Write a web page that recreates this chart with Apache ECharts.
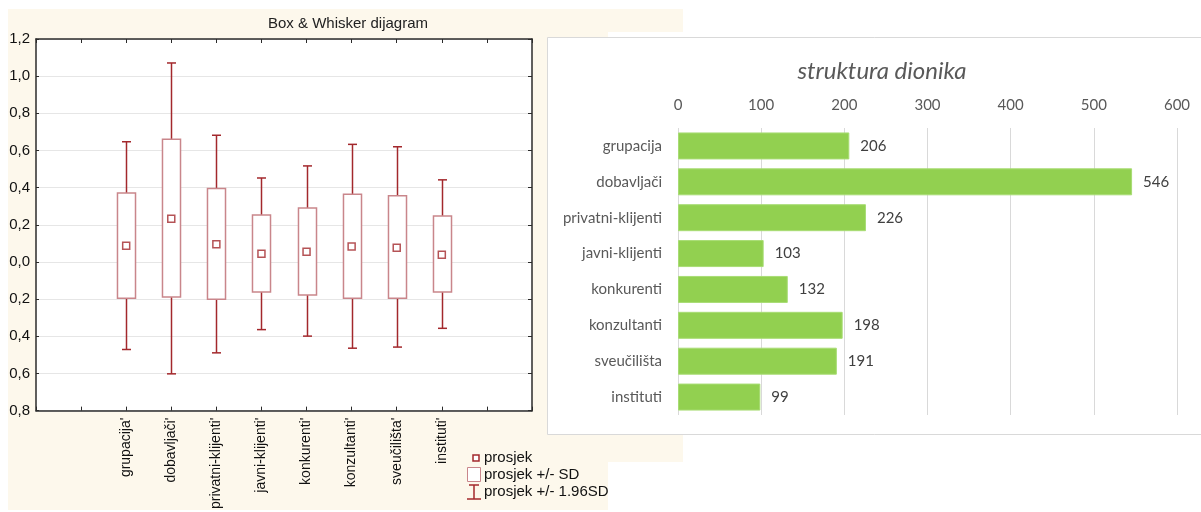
<!DOCTYPE html>
<html>
<head>
<meta charset="utf-8">
<script src="https://cdn.jsdelivr.net/npm/echarts@6/dist/echarts.min.js"></script>
<style>
  html, body { margin: 0; padding: 0; background: #ffffff; }
  #chart { width: 1201px; height: 512px; }
</style>
</head>
<body>
<div id="chart"></div>
<script>
// ---- Box & Whisker panel: per group mean, mean±SD and mean±1.96SD ----
const boxCategories = ["grupacija'", "dobavljači'", "privatni-klijenti'", "javni-klijenti'",
                       "konkurenti'", "konzultanti'", "sveučilišta'", "instituti'"];
const meanValues   = [0.087, 0.233, 0.096, 0.044, 0.055, 0.083, 0.076, 0.039];
const sdHigh       = [0.371, 0.661, 0.396, 0.253, 0.290, 0.365, 0.356, 0.248];
const sdLow        = [-0.195, -0.189, -0.200, -0.162, -0.178, -0.195, -0.195, -0.162];
const ciHigh       = [0.647, 1.071, 0.682, 0.452, 0.517, 0.633, 0.620, 0.442];
const ciLow        = [-0.471, -0.602, -0.489, -0.364, -0.399, -0.464, -0.458, -0.357];
const boxYTicks    = [-0.8, -0.6, -0.4, -0.2, 0.0, 0.2, 0.4, 0.6, 0.8, 1.0, 1.2];

// ---- Bar panel: number of stakeholders per group ----
const barCategories = ['grupacija', 'dobavljači', 'privatni-klijenti', 'javni-klijenti',
                       'konkurenti', 'konzultanti', 'sveučilišta', 'instituti'];
const barValues     = [206, 546, 226, 103, 132, 198, 191, 99];
const barTicks      = [0, 100, 200, 300, 400, 500, 600];

// groups sit at positions 2..9 on a 0..11 slot axis
const FIRST_SLOT = 2;
const boxData = boxCategories.map((c, i) => [FIRST_SLOT + i, ciHigh[i], sdHigh[i], sdLow[i], ciLow[i]]);
const meanData = boxCategories.map((c, i) => [FIRST_SLOT + i, meanValues[i]]);

const CREAM = '#fdf8ec';
const WHISKER = '#a3282c';
const BOXLINE = '#c9868b';
const FRAME = '#2b2b2b';
const LEFT_FONT = '"Liberation Sans", Arial, sans-serif';
const RIGHT_FONT = 'Lato, "Open Sans", sans-serif';

const chart = echarts.init(document.getElementById('chart'), null, { renderer: 'canvas' });

const fmtComma = v => Math.abs(v).toFixed(1).replace('.', ',');

const option = {
  animation: false,
  backgroundColor: '#ffffff',
  title: [
    {
      text: 'Box & Whisker dijagram',
      left: 343, top: 11, textAlign: 'center',
      textStyle: { fontFamily: LEFT_FONT, fontSize: 15, fontWeight: 'normal', color: '#222222' }
    },
    {
      text: 'struktura dionika',
      left: 877, top: 54, textAlign: 'center',
      textStyle: { fontFamily: RIGHT_FONT, fontSize: 24, fontStyle: 'italic', fontWeight: 'normal', color: '#595959' }
    }
  ],
  graphic: [
    // panel backgrounds
    { type: 'rect', z: -10, shape: { x: 8, y: 9, width: 600, height: 501 }, style: { fill: CREAM } },
    { type: 'rect', z: -10, shape: { x: 8, y: 9, width: 675, height: 23 }, style: { fill: CREAM } },
    { type: 'rect', z: -10, shape: { x: 608, y: 435, width: 75, height: 27 }, style: { fill: CREAM } },
    { type: 'rect', z: -9, shape: { x: 36, y: 39, width: 496, height: 373 }, style: { fill: '#ffffff' } },
    { type: 'rect', z: -8, shape: { x: 547.5, y: 37.5, width: 670, height: 397 },
      style: { fill: '#ffffff', stroke: '#d9d9d9', lineWidth: 1 } },
    // legend of the box plot
    { type: 'rect', z: 10, shape: { x: 473, y: 455, width: 6, height: 6 },
      style: { fill: '#ffffff', stroke: WHISKER, lineWidth: 1.5 } },
    { type: 'text', z: 10, style: { x: 484, y: 458, text: 'prosjek', font: '15px ' + LEFT_FONT, fill: '#111111', textVerticalAlign: 'middle' } },
    { type: 'rect', z: 10, shape: { x: 467.5, y: 467.5, width: 13, height: 14 },
      style: { fill: '#ffffff', stroke: BOXLINE, lineWidth: 1 } },
    { type: 'text', z: 10, style: { x: 484, y: 475, text: 'prosjek +/- SD', font: '15px ' + LEFT_FONT, fill: '#111111', textVerticalAlign: 'middle' } },
    { type: 'line', z: 10, shape: { x1: 474, y1: 485, x2: 474, y2: 499 }, style: { stroke: WHISKER, lineWidth: 1.5 } },
    { type: 'line', z: 10, shape: { x1: 469, y1: 485, x2: 479, y2: 485 }, style: { stroke: WHISKER, lineWidth: 1.5 } },
    { type: 'line', z: 10, shape: { x1: 467, y1: 499, x2: 481, y2: 499 }, style: { stroke: WHISKER, lineWidth: 1.5 } },
    { type: 'text', z: 10, style: { x: 484, y: 492, text: 'prosjek +/- 1.96SD', font: '15px ' + LEFT_FONT, fill: '#111111', textVerticalAlign: 'middle' } }
  ],
  grid: [
    { left: 36, right: 669, top: 39, bottom: 100 },
    { left: 678, right: 24, top: 128, bottom: 97 }
  ],
  xAxis: [
    {
      gridIndex: 0, type: 'value', min: 0, max: 11, interval: 1, position: 'bottom',
      axisLine: { show: true, onZero: false, lineStyle: { color: FRAME, width: 1.5 } },
      axisTick: { show: true, inside: true, length: 4, lineStyle: { color: FRAME, width: 1 } },
      splitLine: { show: false },
      axisLabel: {
        show: true, rotate: 90, margin: 7, interval: 0,
        fontFamily: LEFT_FONT, fontSize: 14, color: '#111111',
        showMinLabel: true, showMaxLabel: true,
        formatter: v => {
          const i = Math.round(v) - FIRST_SLOT;
          return (i >= 0 && i < boxCategories.length) ? boxCategories[i] : '';
        }
      }
    },
    {
      gridIndex: 0, type: 'value', min: 0, max: 11, interval: 1, position: 'top',
      axisLine: { show: true, onZero: false, lineStyle: { color: FRAME, width: 1.5 } },
      axisTick: { show: true, inside: true, length: 4, lineStyle: { color: FRAME, width: 1 } },
      splitLine: { show: false },
      axisLabel: { show: false }
    },
    {
      gridIndex: 1, type: 'value', min: barTicks[0], max: barTicks[barTicks.length - 1],
      interval: barTicks[1] - barTicks[0], position: 'top',
      axisLine: { show: false }, axisTick: { show: false },
      splitLine: { show: true, lineStyle: { color: '#d9d9d9', width: 1 } },
      axisLabel: { margin: 15, fontFamily: RIGHT_FONT, fontSize: 15, color: '#595959' }
    }
  ],
  yAxis: [
    {
      gridIndex: 0, type: 'value', min: boxYTicks[0], max: boxYTicks[boxYTicks.length - 1], interval: 0.2,
      position: 'left',
      axisLine: { show: true, onZero: false, lineStyle: { color: FRAME, width: 1.5 } },
      axisTick: { show: true, inside: true, length: 3, lineStyle: { color: FRAME, width: 1 } },
      splitLine: { show: true, lineStyle: { color: '#e6e6e6', width: 1 } },
      axisLabel: { margin: 6, fontFamily: LEFT_FONT, fontSize: 15, color: '#111111', formatter: fmtComma }
    },
    {
      gridIndex: 0, type: 'value', min: boxYTicks[0], max: boxYTicks[boxYTicks.length - 1], interval: 0.2,
      position: 'right',
      axisLine: { show: true, onZero: false, lineStyle: { color: FRAME, width: 1.5 } },
      axisTick: { show: true, inside: true, length: 4, lineStyle: { color: FRAME, width: 1 } },
      splitLine: { show: false },
      axisLabel: { show: false }
    },
    {
      gridIndex: 1, type: 'category', data: barCategories, inverse: true,
      axisLine: { show: false }, axisTick: { show: false },
      axisLabel: { margin: 16, fontFamily: RIGHT_FONT, fontSize: 15, color: '#595959' }
    }
  ],
  series: [
    {
      type: 'custom', xAxisIndex: 0, yAxisIndex: 0, z: 3,
      data: boxData,
      encode: { x: 0, y: [1, 2, 3, 4] },
      renderItem: (params, api) => {
        const xv = api.value(0);
        const pWHi = api.coord([xv, api.value(1)]);
        const pBHi = api.coord([xv, api.value(2)]);
        const pBLo = api.coord([xv, api.value(3)]);
        const pWLo = api.coord([xv, api.value(4)]);
        const halfBox = api.size([0.4, 0])[0] / 2;
        const halfCap = api.size([0.2, 0])[0] / 2;
        const cx = Math.round(pWHi[0]) + 0.5;
        const wStyle = { stroke: WHISKER, lineWidth: 1.5 };
        return {
          type: 'group',
          children: [
            { type: 'line', shape: { x1: cx, y1: pWHi[1], x2: cx, y2: pBHi[1] }, style: wStyle },
            { type: 'line', shape: { x1: cx, y1: pBLo[1], x2: cx, y2: pWLo[1] }, style: wStyle },
            { type: 'line', shape: { x1: cx - halfCap, y1: pWHi[1], x2: cx + halfCap, y2: pWHi[1] }, style: wStyle },
            { type: 'line', shape: { x1: cx - halfCap, y1: pWLo[1], x2: cx + halfCap, y2: pWLo[1] }, style: wStyle },
            { type: 'rect', shape: { x: cx - halfBox, y: pBHi[1], width: halfBox * 2, height: pBLo[1] - pBHi[1] },
              style: { fill: '#ffffff', stroke: BOXLINE, lineWidth: 1.5 } }
          ]
        };
      }
    },
    {
      type: 'scatter', xAxisIndex: 0, yAxisIndex: 0, z: 4,
      data: meanData, symbol: 'rect', symbolSize: 7,
      itemStyle: { color: '#ffffff', borderColor: WHISKER, borderWidth: 1.5 }
    },
    {
      type: 'bar', xAxisIndex: 2, yAxisIndex: 2,
      data: barValues, barWidth: 27,
      itemStyle: { color: '#92d050', borderColor: '#a8dc74', borderWidth: 1 },
      label: { show: true, position: 'right', distance: 11, fontFamily: RIGHT_FONT, fontSize: 15, color: '#404040' }
    }
  ]
};

chart.setOption(option);
</script>
</body>
</html>
